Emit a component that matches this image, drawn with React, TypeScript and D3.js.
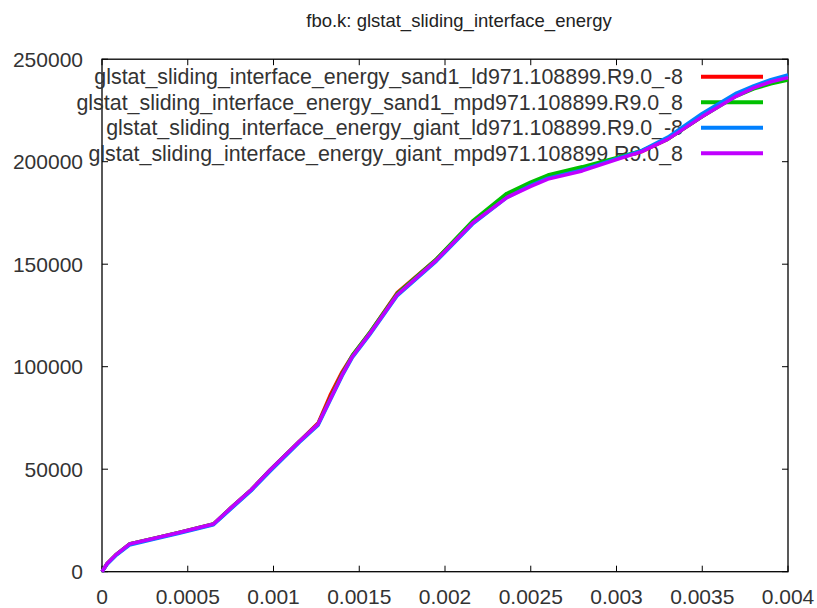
import React from "react";
import * as d3 from "d3";

const TITLE = "fbo.k: glstat_sliding_interface_energy";
const xValues = [0, 0.00003, 0.00008, 0.00016, 0.0003, 0.00045, 0.00065, 0.00075, 0.00087, 0.00098, 0.00115, 0.00126, 0.00133, 0.0014, 0.00146, 0.00156, 0.00172, 0.00195, 0.00216, 0.00236, 0.0025, 0.0026, 0.0028, 0.003, 0.00315, 0.0033, 0.0035, 0.0037, 0.0038, 0.0039, 0.004];
const sand1Ld = [0, 4000, 8200, 13500, 16200, 19100, 23300, 31000, 40000, 49600, 63500, 72500, 86000, 97500, 105500, 116500, 136000, 152500, 170500, 183000, 189000, 192500, 196500, 201500, 205000, 211000, 222000, 232500, 236000, 238500, 240500];
const sand1Mpd = [0, 4000, 8200, 13500, 16200, 19100, 23300, 31000, 40000, 49600, 63500, 72000, 84500, 96500, 105500, 116500, 135500, 152500, 171000, 184500, 190000, 193500, 197500, 202000, 205500, 211000, 222000, 232000, 235500, 238000, 239800];
const giantLd = [0, 3600, 7800, 13000, 15800, 18700, 22900, 30500, 39500, 49000, 63000, 71500, 83500, 95500, 104500, 115500, 134500, 151500, 169500, 182500, 188500, 192000, 196000, 201500, 205500, 212000, 223500, 233500, 237000, 240000, 242300];
const giantMpd = [0, 4000, 8200, 13500, 16200, 19100, 23300, 31000, 40000, 49600, 63500, 72000, 84000, 96000, 105000, 116000, 135000, 152000, 170000, 182500, 188000, 191500, 195500, 201000, 205000, 211000, 222000, 232000, 236000, 239000, 241000];
const seriesNames = [
  "glstat_sliding_interface_energy_sand1_ld971.108899.R9.0_-8",
  "glstat_sliding_interface_energy_sand1_mpd971.108899.R9.0_8",
  "glstat_sliding_interface_energy_giant_ld971.108899.R9.0_-8",
  "glstat_sliding_interface_energy_giant_mpd971.108899.R9.0_8",
];
const seriesColors = ["#ff0000", "#00c000", "#0080ff", "#c000ff"];
const seriesValues = [sand1Ld, sand1Mpd, giantLd, giantMpd];
const xTicks = [0, 0.0005, 0.001, 0.0015, 0.002, 0.0025, 0.003, 0.0035, 0.004];
const xTickLabels = ["0", "0.0005", "0.001", "0.0015", "0.002", "0.0025", "0.003", "0.0035", "0.004"];
const yTicks = [0, 50000, 100000, 150000, 200000, 250000];

const W = 817, H = 608;
const left = 102, right = 788, top = 59.2, bottom = 571.7;
const FONT = "'Liberation Sans', Arial, sans-serif";

export default function App() {
  const x = d3.scaleLinear().domain([0, 0.004]).range([left, right]);
  const y = d3.scaleLinear().domain([0, 250000]).range([bottom, top]);
  const line = d3.line<[number, number]>().x(d => x(d[0])).y(d => y(d[1]));
  const tl = 6;
  return (
    <svg width={W} height={H} style={{ position: "absolute", left: 0, top: 0, background: "#fff" }}>
      <rect x={0} y={0} width={W} height={H} fill="#fff" />
      <text x={459} y={27} textAnchor="middle" fontFamily={FONT} fontSize={18.5} fill="#222">{TITLE}</text>
      {yTicks.map(t => (
        <g key={"y" + t}>
          <line x1={left} x2={left + tl} y1={y(t)} y2={y(t)} stroke="#000" />
          <line x1={right} x2={right - tl} y1={y(t)} y2={y(t)} stroke="#000" />
          <text x={83} y={y(t) + 7.5} textAnchor="end" fontFamily={FONT} fontSize={21} fill="#333">{t}</text>
        </g>
      ))}
      {xTicks.map((t, i) => (
        <g key={"x" + t}>
          <line x1={x(t)} x2={x(t)} y1={bottom} y2={bottom - tl} stroke="#000" />
          <line x1={x(t)} x2={x(t)} y1={top} y2={top + tl} stroke="#000" />
          <text x={x(t)} y={604} textAnchor="middle" fontFamily={FONT} fontSize={21} fill="#333">{xTickLabels[i]}</text>
        </g>
      ))}
      <rect x={left} y={top} width={right - left} height={bottom - top} fill="none" stroke="#000" strokeWidth={1.3} />
      {seriesNames.map((name, i) => {
        const ly = 76.7 + i * 25.5;
        return (
          <g key={name}>
            <text x={683} y={ly + 7.5} textAnchor="end" fontFamily={FONT} fontSize={21.4} fill="#333">{name}</text>
            <line x1={701} x2={763} y1={ly} y2={ly} stroke={seriesColors[i]} strokeWidth={4} />
          </g>
        );
      })}
      {seriesValues.map((vals, i) => (
        <path key={"s" + i}
          d={line(xValues.map((xv, j) => [xv, vals[j]] as [number, number])) || ""}
          fill="none" stroke={seriesColors[i]} strokeWidth={3.5} strokeLinejoin="round" />
      ))}
    </svg>
  );
}
